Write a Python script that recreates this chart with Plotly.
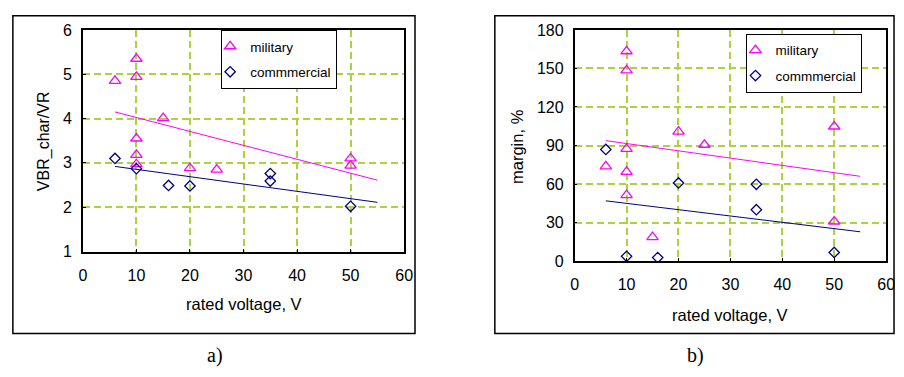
import plotly.graph_objects as go

# ---- data ----
mil_a_x = [6, 10, 10, 10, 10, 10, 15, 20, 25, 50, 50]
mil_a_y = [4.85, 5.35, 4.94, 3.55, 3.18, 2.97, 4.01, 2.88, 2.85, 3.10, 2.94]
com_a_x = [6, 10, 16, 20, 35, 35, 50]
com_a_y = [3.10, 2.87, 2.49, 2.48, 2.76, 2.59, 2.02]
trend_mil_a_x = [6, 55]
trend_mil_a_y = [4.15, 2.61]
trend_com_a_x = [6, 55]
trend_com_a_y = [2.92, 2.11]

mil_b_x = [6, 10, 10, 10, 10, 10, 15, 20, 25, 50, 50]
mil_b_y = [73.7, 163.4, 148.5, 87.4, 69.5, 51.4, 18.6, 100.8, 90.6, 104.8, 30.8]
com_b_x = [6, 10, 16, 20, 35, 35, 50]
com_b_y = [86.9, 3.7, 2.7, 60.8, 59.8, 40.0, 6.7]
trend_mil_b_x = [6, 55]
trend_mil_b_y = [93.8, 66.0]
trend_com_b_x = [6, 55]
trend_com_b_y = [46.9, 22.8]

x_ticks = [0, 10, 20, 30, 40, 50, 60]
y_ticks_a = [1, 2, 3, 4, 5, 6]
y_ticks_b = [0, 30, 60, 90, 120, 150, 180]

MAG = "#ff00ff"
NAVY = "#000080"
GRID = "#aed23c"
FONT = "Arial, Liberation Sans, sans-serif"
W, H = 904, 377

fig = go.Figure()

def px_x(p):
    return p / W

def px_y(p):
    return 1 - p / H

# panel a
fig.add_trace(go.Scatter(x=trend_mil_a_x, y=trend_mil_a_y, mode="lines",
                         line=dict(color=MAG, width=1), showlegend=False,
                         xaxis="x", yaxis="y"))
fig.add_trace(go.Scatter(x=trend_com_a_x, y=trend_com_a_y, mode="lines",
                         line=dict(color=NAVY, width=1), showlegend=False,
                         xaxis="x", yaxis="y"))
fig.add_trace(go.Scatter(x=mil_a_x, y=mil_a_y, mode="markers", name="military",
                         marker=dict(symbol="triangle-up-open", size=10, color=MAG,
                                     line=dict(width=1.3)),
                         legend="legend", legendgroup="a1", xaxis="x", yaxis="y"))
fig.add_trace(go.Scatter(x=com_a_x, y=com_a_y, mode="markers", name="commmercial",
                         marker=dict(symbol="diamond-open", size=8, color=NAVY,
                                     line=dict(width=1.3)),
                         legend="legend", legendgroup="a2", xaxis="x", yaxis="y"))

# panel b
fig.add_trace(go.Scatter(x=trend_mil_b_x, y=trend_mil_b_y, mode="lines",
                         line=dict(color=MAG, width=1), showlegend=False,
                         xaxis="x2", yaxis="y2"))
fig.add_trace(go.Scatter(x=trend_com_b_x, y=trend_com_b_y, mode="lines",
                         line=dict(color=NAVY, width=1), showlegend=False,
                         xaxis="x2", yaxis="y2"))
fig.add_trace(go.Scatter(x=mil_b_x, y=mil_b_y, mode="markers", name="military",
                         marker=dict(symbol="triangle-up-open", size=10, color=MAG,
                                     line=dict(width=1.3)),
                         legend="legend2", legendgroup="b1", xaxis="x2", yaxis="y2"))
fig.add_trace(go.Scatter(x=com_b_x, y=com_b_y, mode="markers", name="commmercial",
                         marker=dict(symbol="diamond-open", size=8, color=NAVY,
                                     line=dict(width=1.3)),
                         legend="legend2", legendgroup="b2", xaxis="x2", yaxis="y2"))

axis_common = dict(
    showline=True, linecolor="black", linewidth=1.6, mirror=True,
    showgrid=True, gridcolor=GRID, gridwidth=1.5, griddash="7px,4px",
    zeroline=False, ticks="inside", ticklen=3, tickcolor="black",
    tickfont=dict(family=FONT, size=16, color="black"),
)

legend_common = dict(
    xanchor="right", yanchor="top",
    bgcolor="white", bordercolor="black", borderwidth=1,
    font=dict(family=FONT, size=13.5, color="black"),
    itemwidth=30, tracegroupgap=5, traceorder="grouped", indentation=-12,
)

fig.update_layout(
    width=W, height=H,
    margin=dict(l=0, r=0, t=0, b=0),
    paper_bgcolor="white", plot_bgcolor="white",
    font=dict(family=FONT, color="black"),
    xaxis=dict(domain=[px_x(80), px_x(406)], anchor="y", range=[0, 60],
               tickvals=x_ticks, ticklabelstandoff=8, **axis_common),
    yaxis=dict(domain=[px_y(255), px_y(23)], anchor="x", range=[1, 6],
               tickvals=y_ticks_a, ticklabelstandoff=6, **axis_common),
    xaxis2=dict(domain=[px_x(579), px_x(895)], anchor="y2", range=[0, 60],
                tickvals=x_ticks, ticklabelstandoff=8, **axis_common),
    yaxis2=dict(domain=[px_y(265), px_y(23)], anchor="x2", range=[0, 180],
                tickvals=y_ticks_b, ticklabelstandoff=6, **axis_common),
    legend=dict(x=px_x(338), y=px_y(23), **legend_common),
    legend2=dict(x=px_x(871), y=px_y(27), **legend_common),
)

# outer frames
fig.add_shape(type="rect", xref="paper", yref="paper",
              x0=px_x(9), x1=px_x(417), y0=px_y(341), y1=px_y(8),
              line=dict(color="black", width=1.5), layer="below")
fig.add_shape(type="rect", xref="paper", yref="paper",
              x0=px_x(498), x1=px_x(903), y0=px_y(341), y1=px_y(8),
              line=dict(color="black", width=1.5), layer="below")

# axis titles
ann = []
ann.append(dict(text="rated voltage, V", x=px_x(243), y=px_y(310)))
ann.append(dict(text="rated voltage, V", x=px_x(737), y=px_y(322)))
for a in ann:
    fig.add_annotation(xref="paper", yref="paper", showarrow=False,
                       xanchor="center", yanchor="middle",
                       font=dict(family=FONT, size=16.5, color="black"), **a)
fig.add_annotation(text="VBR_char/VR", x=px_x(40), y=px_y(139), xref="paper", yref="paper",
                   showarrow=False, textangle=-90, xanchor="center", yanchor="middle",
                   font=dict(family=FONT, size=16, color="black"))
fig.add_annotation(text="margin, %", x=px_x(521), y=px_y(145), xref="paper", yref="paper",
                   showarrow=False, textangle=-90, xanchor="center", yanchor="middle",
                   font=dict(family=FONT, size=16.5, color="black"))

# captions
fig.add_annotation(text="a)", x=px_x(214), y=px_y(364), xref="paper", yref="paper",
                   showarrow=False, xanchor="center", yanchor="middle",
                   font=dict(family="Times New Roman, Liberation Serif, serif", size=20, color="black"))
fig.add_annotation(text="b)", x=px_x(702), y=px_y(364), xref="paper", yref="paper",
                   showarrow=False, xanchor="center", yanchor="middle",
                   font=dict(family="Times New Roman, Liberation Serif, serif", size=20, color="black"))

fig.write_html("out.html", config={"displayModeBar": False},
               post_script="document.body.style.margin='0';document.body.style.overflow='hidden';")
